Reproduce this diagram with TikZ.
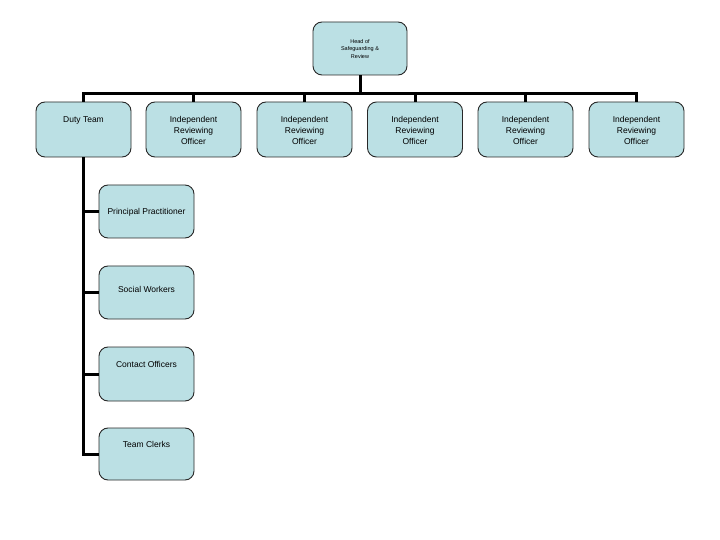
\documentclass[tikz,border=0pt]{standalone}
\usepackage{fontspec}
\setmainfont{Liberation Sans}
\definecolor{boxfill}{RGB}{187,224,228}
\definecolor{boxline}{RGB}{40,40,40}
\begin{document}
\begin{tikzpicture}[x=1bp,y=-1bp,
  orgbox/.style={draw=boxline, line width=0.9bp, fill=boxfill, rounded corners=9bp, inner sep=0pt},
  conn/.style={line width=3bp, black},
  txt/.style={font=\fontsize{8.5bp}{11bp}\selectfont, align=center, inner sep=0pt, anchor=center},
  smalltxt/.style={font=\fontsize{5.5bp}{7.8bp}\selectfont, align=center, inner sep=0pt, anchor=center}]
\useasboundingbox (0,0) rectangle (720,540);
\fill[white] (0,0) rectangle (720,540);
% top box
\node[orgbox, minimum width=94bp, minimum height=53bp] (head) at (360,48.5) {};
\node[smalltxt] (headT) at (360,49) {Head of\\Safeguarding \&\\Review};
% second row
\node[orgbox, minimum width=95bp, minimum height=55bp] (duty) at (83.5,129.5) {};
\node[orgbox, minimum width=95bp, minimum height=55bp] (iro1) at (193.5,129.5) {};
\node[orgbox, minimum width=95bp, minimum height=55bp] (iro2) at (304.5,129.5) {};
\node[orgbox, minimum width=95bp, minimum height=55bp] (iro3) at (415,129.5) {};
\node[orgbox, minimum width=95bp, minimum height=55bp] (iro4) at (525.5,129.5) {};
\node[orgbox, minimum width=95bp, minimum height=55bp] (iro5) at (636.5,129.5) {};
\node[txt] (dutyT) at (83.5,120.5) {Duty Team};
\node[txt] (iro1T) at (193.5,130.5) {Independent\\Reviewing\\Officer};
\node[txt] (iro2T) at (304.5,130.5) {Independent\\Reviewing\\Officer};
\node[txt] (iro3T) at (415,130.5) {Independent\\Reviewing\\Officer};
\node[txt] (iro4T) at (525.5,130.5) {Independent\\Reviewing\\Officer};
\node[txt] (iro5T) at (636.5,130.5) {Independent\\Reviewing\\Officer};
% column under duty team
\node[orgbox, minimum width=95bp, minimum height=53bp] (pp) at (146.5,211.5) {};
\node[orgbox, minimum width=95bp, minimum height=53bp] (sw) at (146.5,292.5) {};
\node[orgbox, minimum width=95bp, minimum height=54bp] (co) at (146.5,374) {};
\node[orgbox, minimum width=95bp, minimum height=52bp] (tc) at (146.5,454) {};
\node[txt] (ppT) at (146.5,212) {Principal Practitioner};
\node[txt] (swT) at (146.5,289) {Social Workers};
\node[txt] (coT) at (146.5,364.5) {Contact Officers};
\node[txt] (tcT) at (146.5,444.5) {Team Clerks};
% connectors
\coordinate (bar) at (0,93.5);
\draw[conn] (head.south) -- (head.south |- bar);
\draw[conn] (duty.north) -- (duty.north |- bar) -- (iro5.north |- bar) -- (iro5.north);
\draw[conn] (iro1.north) -- (iro1.north |- bar);
\draw[conn] (iro2.north) -- (iro2.north |- bar);
\draw[conn] (iro3.north) -- (iro3.north |- bar);
\draw[conn] (iro4.north) -- (iro4.north |- bar);
\draw[conn] (duty.south) |- (tc.west);
\draw[conn] (pp.west) -- (pp.west -| duty.south);
\draw[conn] (sw.west) -- (sw.west -| duty.south);
\draw[conn] (co.west) -- (co.west -| duty.south);
\end{tikzpicture}
\end{document}
